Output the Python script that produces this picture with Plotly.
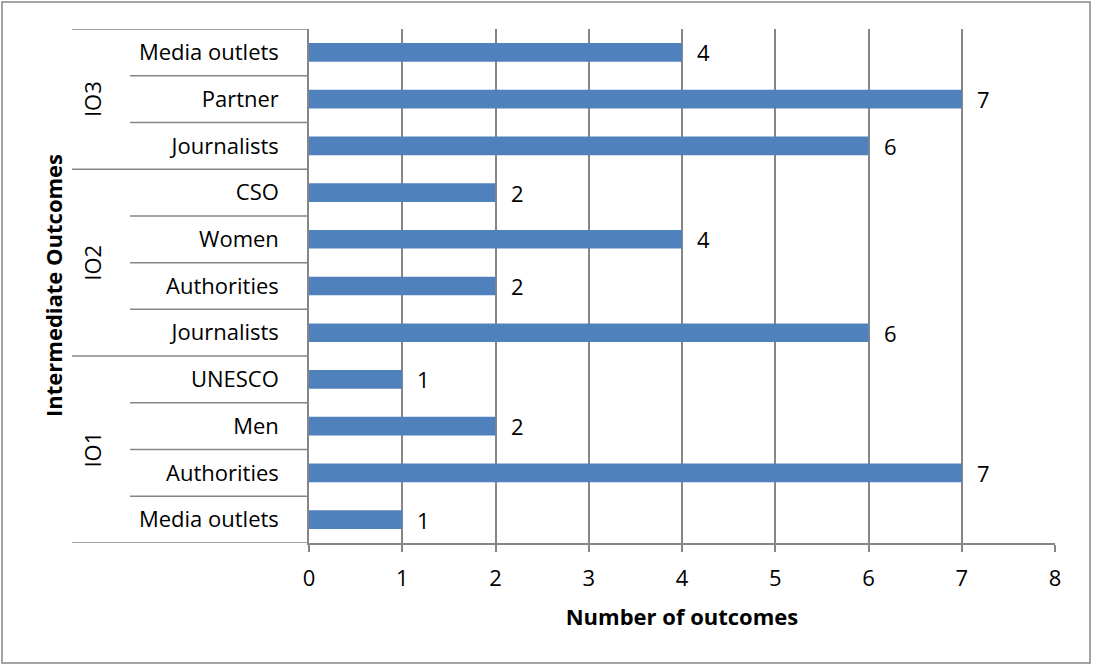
import plotly.graph_objects as go

# Intermediate outcome groups, listed bottom to top
groups = ["IO1", "IO2", "IO3"]
group_labels = [
    ["Media outlets", "Authorities", "Men", "UNESCO"],
    ["Journalists", "Authorities", "Women", "CSO"],
    ["Journalists", "Partner", "Media outlets"],
]
group_values = [
    [1, 7, 2, 1],
    [6, 2, 4, 2],
    [6, 7, 4],
]
x_ticks = [0, 1, 2, 3, 4, 5, 6, 7, 8]

labels = [l for g in group_labels for l in g]
values = [v for g in group_values for v in g]
positions = list(range(len(labels)))

FONT = "Open Sans, Carlito, Calibri, sans-serif"
FS = 22
GRID = "#868686"
BAR = "#4F81BD"

fig = go.Figure()
fig.add_trace(go.Bar(
    x=values, y=positions, orientation="h",
    width=0.4, marker=dict(color=BAR, line=dict(width=0)),
    hoverinfo="x+text", hovertext=labels,
))

# value labels to the right of each bar
for p, v in zip(positions, values):
    fig.add_annotation(x=v, y=p, text=str(v), showarrow=False,
                       xanchor="left", xshift=13,
                       font=dict(family=FONT, size=FS, color="black"))

# category separators on the label axis
line = dict(color=GRID, width=1.5)
X_INNER = (130 - 309) / 746
X_OUTER = (72 - 309) / 746
start = 0
bounds = [-0.5]
for g, lab in zip(groups, group_labels):
    n = len(lab)
    for k in range(1, n):
        yy = start + k - 0.5
        fig.add_shape(type="line", xref="paper", yref="y",
                      x0=X_INNER, x1=0, y0=yy, y1=yy, line=line)
    mid = start + (n - 1) / 2
    fig.add_annotation(x=(92 - 309) / 746, y=mid, xref="paper", yref="y",
                       xanchor="center", yanchor="middle",
                       text=g, textangle=-90, showarrow=False,
                       font=dict(family=FONT, size=FS, color="black"))
    start += n
    bounds.append(start - 0.5)
for yy in bounds:
    fig.add_shape(type="line", xref="paper", yref="y",
                  x0=X_OUTER, x1=0, y0=yy, y1=yy, line=line)

# y axis title
fig.add_annotation(x=(53 - 309) / 746, y=0.5, xref="paper", yref="paper",
                   xanchor="center", yanchor="middle",
                   text="<b>Intermediate Outcomes</b>", textangle=-90,
                   showarrow=False,
                   font=dict(family=FONT, size=FS, color="black"))

# chart border
fig.add_shape(type="rect", xref="paper", yref="paper",
              x0=(2 - 309) / 746, x1=(1090 - 309) / 746,
              y0=(543 - 663) / 514, y1=(543 - 2) / 514,
              line=dict(color=GRID, width=1.5))

fig.update_layout(
    width=1093, height=666,
    margin=dict(l=309, r=38, t=29, b=123),
    paper_bgcolor="white", plot_bgcolor="white",
    showlegend=False,
    font=dict(family=FONT, size=FS, color="black"),
    xaxis=dict(
        range=[0, 8], tickvals=x_ticks,
        showgrid=True, gridcolor=GRID, gridwidth=1.5,
        showline=True, linecolor=GRID, linewidth=1.5,
        ticks="outside", ticklen=7, tickcolor=GRID, tickwidth=1.5,
        ticklabelstandoff=8,
        zeroline=False,
        title=dict(text="<b>Number of outcomes</b>", standoff=18,
                   font=dict(family=FONT, size=FS)),
        tickfont=dict(family=FONT, size=FS),
    ),
    yaxis=dict(
        range=[-0.5, len(labels) - 0.5],
        tickvals=positions, ticktext=labels,
        showgrid=False, zeroline=False,
        showline=True, linecolor=GRID, linewidth=1.5,
        ticks="", ticklabelstandoff=24,
        tickfont=dict(family=FONT, size=FS),
    ),
)

fig.write_html("out.html")
